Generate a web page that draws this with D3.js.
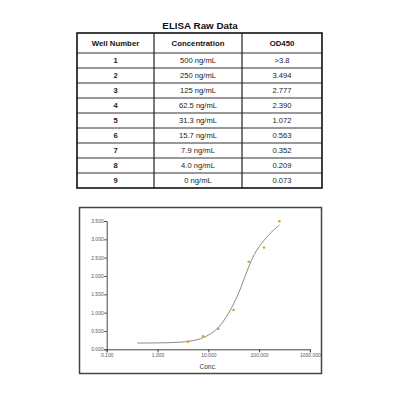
<!DOCTYPE html>
<html>
<head>
<meta charset="utf-8">
<script src="https://cdn.jsdelivr.net/npm/d3@7"></script>
<style>
  html, body { margin: 0; padding: 0; background: #fff; }
  svg { display: block; font-family: "Liberation Sans", Arial, sans-serif; }
</style>
</head>
<body>
<div id="chart"></div>
<script>
// Table data
const headers = ["Well Number", "Concentration", "OD450"];
const wells = ["1", "2", "3", "4", "5", "6", "7", "8", "9"];
const concLabels = ["500 ng/mL", "250 ng/mL", "125 ng/mL", "62.5 ng/mL", "31.3 ng/mL",
                    "15.7 ng/mL", "7.9 ng/mL", "4.0 ng/mL", "0 ng/mL"];
const odLabels = [">3.8", "3.494", "2.777", "2.390", "1.072", "0.563", "0.352", "0.209", "0.073"];

// Plotted standards (points on log axis)
const pointConc = [250, 125, 62.5, 31.3, 15.7, 7.9, 4.0];
const pointOD = [3.494, 2.777, 2.390, 1.072, 0.563, 0.352, 0.209];

// Fitted curve
const curveConc = [0.4, 1, 2, 4, 6, 8, 11, 16, 22, 30, 40, 50, 62.5, 80, 100, 125, 170, 250];
const curveOD = [0.17, 0.175, 0.185, 0.215, 0.26, 0.32, 0.42, 0.60, 0.86, 1.18, 1.55, 1.90,
                 2.25, 2.58, 2.80, 2.97, 3.18, 3.39];

const xTicks = [0.1, 1, 10, 100, 1000];
const yTicks = [0, 0.5, 1, 1.5, 2, 2.5, 3, 3.5];

const svg = d3.select("#chart").append("svg")
    .attr("width", 400)
    .attr("height", 400);

/////////////
// TABLE
/////////////
const colEdges = [77, 154, 242, 322];
const tableTop = 33, headH = 20, rowH = 15;
const tableBottom = tableTop + headH + rowH * wells.length;

svg.append("text")
    .attr("x", 200).attr("y", 29)
    .attr("text-anchor", "middle")
    .attr("font-size", 9.8).attr("font-weight", "bold")
    .attr("fill", "#111")
    .text("ELISA Raw Data");

const gTable = svg.append("g");

// inner row lines
gTable.selectAll("line.row")
    .data(d3.range(1, wells.length + 1))
    .join("line")
    .attr("x1", colEdges[0]).attr("x2", colEdges[3])
    .attr("y1", i => tableTop + headH + (i - 1) * rowH)
    .attr("y2", i => tableTop + headH + (i - 1) * rowH)
    .attr("stroke", "#333")
    .attr("stroke-width", 1);

// column lines
gTable.selectAll("line.col")
    .data(colEdges.slice(1, 3))
    .join("line")
    .attr("x1", d => d).attr("x2", d => d)
    .attr("y1", tableTop).attr("y2", tableBottom)
    .attr("stroke", "#222")
    .attr("stroke-width", 1.2);

gTable.append("rect")
    .attr("x", colEdges[0]).attr("y", tableTop)
    .attr("width", colEdges[3] - colEdges[0])
    .attr("height", tableBottom - tableTop)
    .attr("fill", "none")
    .attr("stroke", "#111")
    .attr("stroke-width", 1.6);

const colMid = i => (colEdges[i] + colEdges[i + 1]) / 2;

gTable.selectAll("text.head")
    .data(headers)
    .join("text")
    .attr("x", (d, i) => colMid(i))
    .attr("y", tableTop + headH / 2 + 3)
    .attr("text-anchor", "middle")
    .attr("font-size", 7.8).attr("font-weight", "bold")
    .attr("fill", "#111")
    .text(d => d);

const rows = wells.map((w, i) => [w, concLabels[i], odLabels[i]]);
rows.forEach((r, ri) => {
    const y = tableTop + headH + ri * rowH + rowH / 2 + 2.7;
    gTable.selectAll(null)
        .data(r)
        .join("text")
        .attr("x", (d, i) => colMid(i))
        .attr("y", y)
        .attr("text-anchor", "middle")
        .attr("font-size", 7.6)
        .attr("font-weight", (d, i) => i === 0 ? "bold" : "normal")
        .attr("fill", "#222")
        .text(d => d);
});

/////////////
// CHART
/////////////
svg.append("rect")
    .attr("x", 79.5).attr("y", 207.5)
    .attr("width", 242).attr("height", 166)
    .attr("fill", "#fff")
    .attr("stroke", "#444")
    .attr("stroke-width", 1.5);

const x = d3.scaleLog().domain([0.1, 1000]).range([106.7, 309.9]);
const y = d3.scaleLinear().domain([0, 3.5]).range([349.3, 221]);

const gX = svg.append("g")
    .attr("transform", `translate(0,${y(0)})`)
    .call(d3.axisBottom(x).tickValues(xTicks).tickSize(3).tickFormat(d3.format(".3f")));
const gY = svg.append("g")
    .attr("transform", `translate(${x(0.1)},0)`)
    .call(d3.axisLeft(y).tickValues(yTicks).tickSize(2.5).tickFormat(d3.format(".3f")));

[gX, gY].forEach(g => {
    g.select(".domain").attr("stroke", "#444").attr("stroke-width", 1);
    g.selectAll(".tick line").attr("stroke", "#444");
    g.selectAll(".tick text")
        .attr("font-size", 5)
        .attr("fill", "#555")
        .attr("font-family", "'Liberation Sans', Arial, sans-serif");
});
gX.selectAll(".tick text").attr("dy", "0.9em").attr("y", 3);
gY.selectAll(".tick text").attr("x", -3);

svg.append("text")
    .attr("x", 208).attr("y", 369)
    .attr("text-anchor", "middle")
    .attr("font-size", 6.5)
    .attr("fill", "#333")
    .text("Conc.");

const line = d3.line()
    .x(d => x(d[0]))
    .y(d => y(d[1]))
    .curve(d3.curveCatmullRom.alpha(0.5));

svg.append("path")
    .datum(curveConc.map((c, i) => [c, curveOD[i]]))
    .attr("d", line)
    .attr("fill", "none")
    .attr("stroke", "#8a8a8a")
    .attr("stroke-width", 1);

svg.selectAll("circle.pt")
    .data(pointConc.map((c, i) => [c, pointOD[i]]))
    .join("circle")
    .attr("cx", d => x(d[0]))
    .attr("cy", d => y(d[1]))
    .attr("r", 1.3)
    .attr("fill", "#e39a3a");
</script>
</body>
</html>
